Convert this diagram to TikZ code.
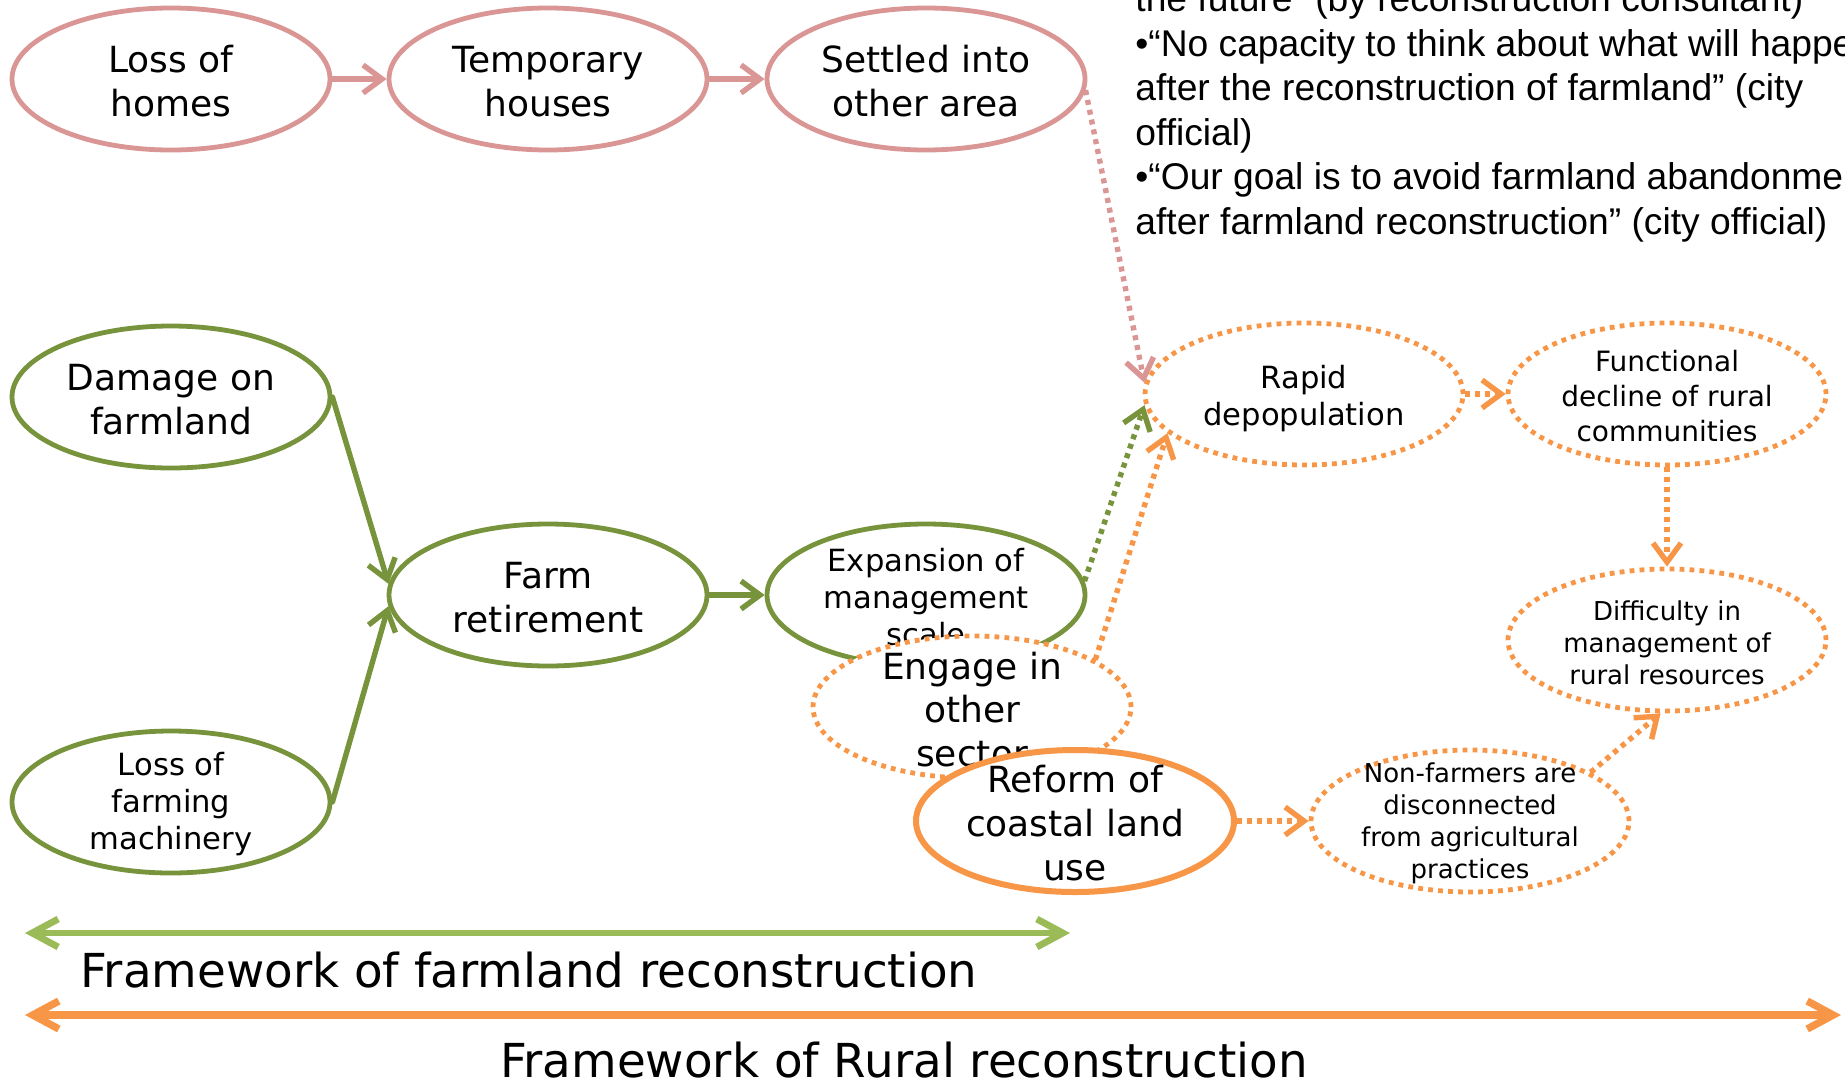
\documentclass[tikz,border=0pt]{standalone}
\usepackage{fontspec}
\setmainfont{DejaVu Sans}
\newfontfamily\quotefont{Liberation Sans}
\usetikzlibrary{arrows.meta, shapes.geometric}
\definecolor{homecolor}{HTML}{D99694}
\definecolor{farmcolor}{HTML}{77933C}
\definecolor{farmbarcolor}{HTML}{9BBB59}
\definecolor{ruralcolor}{HTML}{F79646}
\tikzset{
  stage/.style={ellipse, minimum width=159pt, minimum height=71pt, inner sep=0pt, line width=2.4pt, fill=white},
  homestage/.style={stage, draw=homecolor},
  farmstage/.style={stage, draw=farmcolor},
  ruralstage/.style={stage, draw=ruralcolor, dash pattern=on 2.4pt off 2.6pt},
  stagetext/.style={align=center, inner sep=0pt, text=black, yshift=-1.2pt},
  largetext/.style={stagetext, font=\fontsize{18pt}{22pt}\selectfont},
  midtext/.style={stagetext, font=\fontsize{15.3pt}{18.5pt}\selectfont},
  smalltext/.style={stagetext, font=\fontsize{14pt}{17.5pt}\selectfont},
  tinytext/.style={stagetext, font=\fontsize{13pt}{16pt}\selectfont},
  link/.style={line width=2.7pt, line cap=round, -{Straight Barb[length=9.5pt, width=14pt]}},
  dottedlink/.style={link, line cap=butt, dash pattern=on 2.5pt off 2.5pt},
  framebar/.style={line width=3.4pt, {Straight Barb[length=13pt, width=14pt]}-{Straight Barb[length=13pt, width=14pt]}},
  frametext/.style={inner sep=0pt, font=\fontsize{23.4pt}{28pt}\selectfont},
  quotetext/.style={inner sep=0pt, align=left, font=\quotefont\fontsize{18.6pt}{22.25pt}\selectfont}
}
\begin{document}
\begin{tikzpicture}[x=0.5pt, y=-0.5pt, line join=round]
\useasboundingbox (0,0) rectangle (1845,1082);
\clip (0,0) rectangle (1845,1082);

% Interview quotes, running off the top and right edges
\node[quotetext, anchor=north west] (quotes) at (1135,-15.5) {the future” (by reconstruction consultant)\\
•“No capacity to think about what will happen\\
after the reconstruction of farmland” (city\\
official)\\
•“Our goal is to avoid farmland abandonment\\
after farmland reconstruction” (city official)};

% Housing chain
\node[homestage] (homes) at (171,79) {};
\node[largetext] (homestext) at (homes) {Loss of\\homes};
\node[homestage] (temporary) at (548,79) {};
\node[largetext] (temporarytext) at (temporary) {Temporary\\houses};
\node[homestage] (settled) at (926,79) {};
\node[largetext] (settledtext) at (settled) {Settled into\\other area};

% Farmland chain
\node[farmstage] (damage) at (171,397) {};
\node[largetext] (damagetext) at (damage) {Damage on\\farmland};
\node[farmstage] (machinery) at (171,802) {};
\node[midtext] (machinerytext) at (machinery) {Loss of\\farming\\machinery};
\node[farmstage] (retirement) at (548,595) {};
\node[largetext] (retirementtext) at (retirement) {Farm\\retirement};
\node[farmstage] (expansion) at (926,595) {};
\node[midtext] (expansiontext) at (expansion) {Expansion of\\management\\scale};

% Rural chain (later ellipses cover earlier ones)
\node[ruralstage] (engage) at (972,707) {};
\node[largetext, font=\fontsize{18pt}{21.8pt}\selectfont] (engagetext) at (engage) {Engage in\\other\\sector};
\node[stage, draw=ruralcolor, line width=3pt] (reform) at (1075,821) {};
\node[largetext] (reformtext) at (reform) {Reform of\\coastal land\\use};
\node[ruralstage] (nonfarmers) at (1470,821) {};
\node[tinytext] (nonfarmerstext) at (nonfarmers) {Non-farmers are\\disconnected\\from agricultural\\practices};
\node[ruralstage] (depopulation) at (1304,394) {};
\node[midtext, yshift=-1.2pt] (depopulationtext) at (depopulation) {Rapid\\depopulation};
\node[ruralstage] (decline) at (1667,394) {};
\node[smalltext] (declinetext) at (decline) {Functional\\decline of rural\\communities};
\node[ruralstage] (difficulty) at (1667,640) {};
\node[tinytext] (difficultytext) at (difficulty) {Difficulty in\\management of\\rural resources};

% Connectors
\draw[link, homecolor] (homes) -- (temporary);
\draw[link, homecolor] (temporary) -- (settled);
\draw[dottedlink, homecolor] (settled.-4) -- (depopulation.176);
\draw[link, farmcolor] (damage.east) -- (retirement.176);
\draw[link, farmcolor] (machinery.east) -- (retirement.184);
\draw[link, farmcolor] (retirement) -- (expansion);
\draw[dottedlink, farmcolor] (expansion.5) -- (depopulation.184);
\draw[dottedlink, ruralcolor] (engage.21) -- (depopulation.196);
\draw[dottedlink, ruralcolor] (depopulation) -- (decline);
\draw[dottedlink, ruralcolor] (decline) -- (difficulty);
\draw[dottedlink, ruralcolor] (reform) -- (nonfarmers);
\draw[dottedlink, ruralcolor] (nonfarmers.22) -- (difficulty.265);

% The two frameworks
\coordinate (farmbarleft) at (25,933);
\coordinate (farmbarright) at (1070,933);
\draw[framebar, farmbarcolor] (farmbarleft) -- (farmbarright);
\node[frametext, anchor=base west] (farmframe) at (80,987) {Framework of farmland reconstruction};
\coordinate (ruralbarleft) at (25,1015);
\coordinate (ruralbarright) at (1841,1015);
\draw[framebar, ruralcolor, line width=3.7pt] (ruralbarleft) -- (ruralbarright);
\node[frametext, anchor=base] (ruralframe) at (904,1077) {Framework of Rural reconstruction};
\end{tikzpicture}
\end{document}
